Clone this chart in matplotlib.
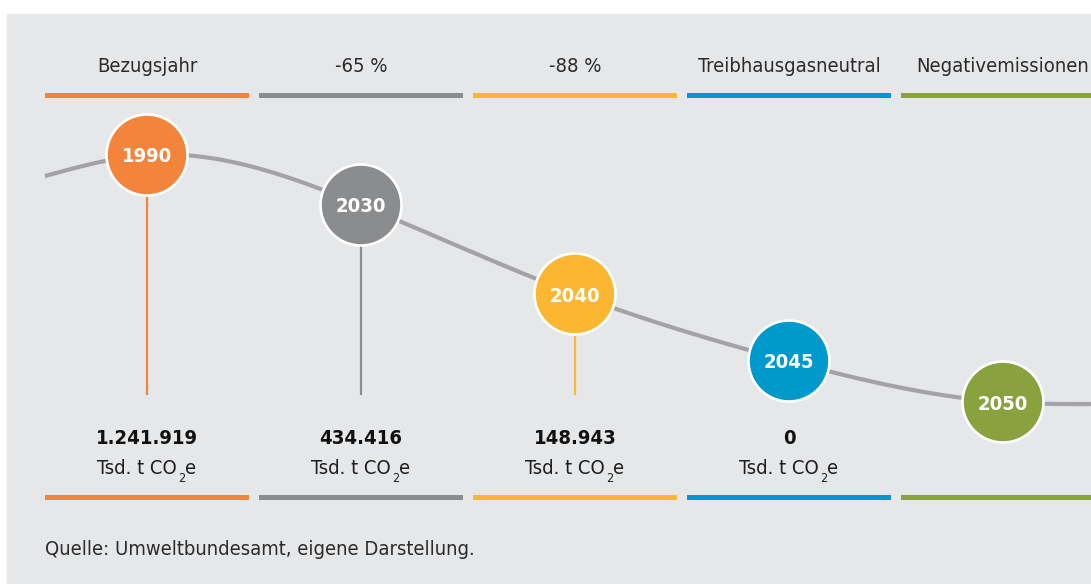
import numpy as np
import matplotlib
matplotlib.use('Agg')
import matplotlib.pyplot as plt
from matplotlib.patches import Circle, Rectangle

# data
headers = ['Bezugsjahr', '-65 %', '-88 %', 'Treibhausgasneutral', 'Negativemissionen']
years = ['1990', '2030', '2040', '2045', '2050']
values = ['1.241.919', '434.416', '148.943', '0', None]
colors = ['#f3843b', '#8b8c8e', '#fbb731', '#0099cc', '#8aa23e']
has_stem = [True, True, True, False, False]
# height of the bubbles along the curve (pixel rows of the sketch)
bubble_y = [155, 205, 294, 361, 402]
source = 'Quelle: Umweltbundesamt, eigene Darstellung.'

W, H = 1091, 584
fig = plt.figure(figsize=(W / 100, H / 100), dpi=100)
fig.patch.set_facecolor('white')
ax = fig.add_axes([0, 0, 1, 1])
ax.set_xlim(0, W)
ax.set_ylim(H, 0)
ax.axis('off')

ax.add_patch(Rectangle((7, 14), W, H, color='#e6e7e9', zorder=0))

font = dict(family='DejaVu Sans', fontstretch='condensed')
x0, pitch, seg = 45, 214, 204
cx = [x0 + 102 + i * pitch for i in range(len(years))]

# header + bars
for i, h in enumerate(headers):
    left = x0 + i * pitch
    ax.add_patch(Rectangle((left, 93), seg, 5, color=colors[i], lw=0, zorder=2))
    ax.add_patch(Rectangle((left, 495), seg, 5, color=colors[i], lw=0, zorder=2))
    ax.text(cx[i], 72, h, ha='center', va='baseline', fontsize=14.5,
            color='#2b2b2b', **font)


def natural_spline(xk, yk, xs):
    # plain natural cubic spline, y as a function of x
    xk = np.asarray(xk, float)
    yk = np.asarray(yk, float)
    n = len(xk)
    hk = np.diff(xk)
    A = np.zeros((n, n))
    b = np.zeros(n)
    A[0, 0] = A[-1, -1] = 1
    for k in range(1, n - 1):
        A[k, k - 1] = hk[k - 1]
        A[k, k] = 2 * (hk[k - 1] + hk[k])
        A[k, k + 1] = hk[k]
        b[k] = 6 * ((yk[k + 1] - yk[k]) / hk[k] - (yk[k] - yk[k - 1]) / hk[k - 1])
    M = np.linalg.solve(A, b)
    j = np.clip(np.searchsorted(xk, xs) - 1, 0, n - 2)
    t0 = xs - xk[j]
    t1 = xk[j + 1] - xs
    hj = hk[j]
    return (M[j] * t1 ** 3 / (6 * hj) + M[j + 1] * t0 ** 3 / (6 * hj)
            + (yk[j] / hj - M[j] * hj / 6) * t1
            + (yk[j + 1] / hj - M[j + 1] * hj / 6) * t0)


kx = [45] + cx + [1100]
ky = [176] + bubble_y + [404]
xs = np.linspace(45, 1100, 600)
ax.plot(xs, natural_spline(kx, ky, xs), color='#a3a3a5', lw=3.0,
        solid_capstyle='butt', zorder=3)

renderer = fig.canvas.get_renderer()


def text_w(s, size):
    t = ax.text(0, 0, s, fontsize=size, **font)
    w = t.get_window_extent(renderer).width
    t.remove()
    return w


unit_color = '#1e1e1e'
w_main = text_w('Tsd. t CO', 14.5)
w_sub = text_w('2', 9)
w_e = text_w('e', 14.5)

r = 40.5
for i, y in enumerate(years):
    by = bubble_y[i]
    if has_stem[i]:
        ax.plot([cx[i], cx[i]], [by + r, 395], color=colors[i], lw=1.6,
                solid_capstyle='butt', zorder=3)
    ax.add_patch(Circle((cx[i], by), r, facecolor=colors[i], edgecolor='white',
                        lw=1.9, zorder=4))
    ax.text(cx[i], by + 7.5, y, ha='center', va='baseline', fontsize=14.5,
            fontweight='bold', color='white', zorder=5, **font)
    if values[i] is not None:
        ax.text(cx[i], 444, values[i], ha='center', va='baseline', fontsize=14.5,
                fontweight='bold', color='#111111', **font)
        # unit line in pieces so the subscript keeps the condensed face
        start = cx[i] - (w_main + w_sub + w_e + 1) / 2
        ax.text(start, 474, 'Tsd. t CO', ha='left', va='baseline',
                fontsize=14.5, color=unit_color, **font)
        ax.text(start + w_main + 0.5, 482, '2', ha='left', va='baseline',
                fontsize=9, color=unit_color, **font)
        ax.text(start + w_main + w_sub + 1, 474, 'e', ha='left', va='baseline',
                fontsize=14.5, color=unit_color, **font)

ax.text(45, 555, source, ha='left', va='baseline', fontsize=14.5,
        color='#2b2b2b', **font)

fig.savefig('out.png', dpi=100, facecolor=fig.get_facecolor())
